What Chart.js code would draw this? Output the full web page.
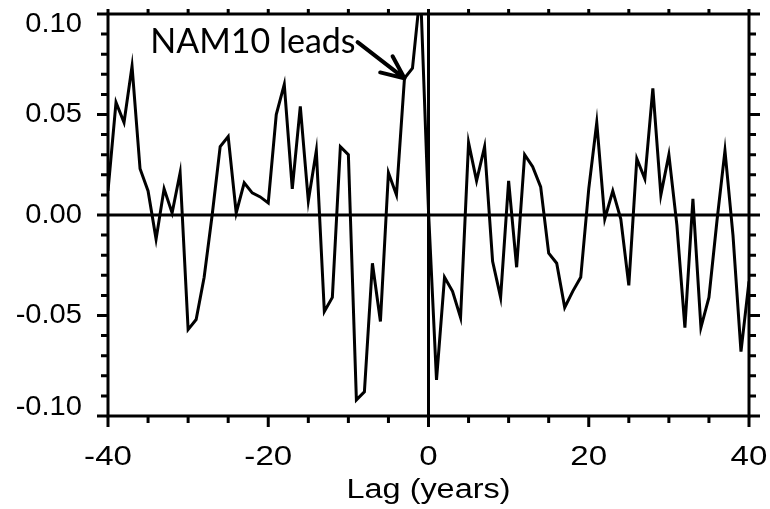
<!DOCTYPE html>
<html>
<head>
<meta charset="utf-8">
<script src="https://cdn.jsdelivr.net/npm/chart.js@4.4.1/dist/chart.umd.min.js"></script>
<style>
  html, body { margin: 0; padding: 0; background: #fff; }
  #wrap { width: 770px; height: 509px; }
</style>
</head>
<body>
<div id="wrap"><canvas id="lagChart" width="770" height="509"></canvas></div>
<script>
// lag in years, negative = NAM10 leads
const lags = [-40,-39,-38,-37,-36,-35,-34,-33,-32,-31,
              -30,-29,-28,-27,-26,-25,-24,-23,-22,-21,
              -20,-19,-18,-17,-16,-15,-14,-13,-12,-11,
              -10,-9,-8,-7,-6,-5,-4,-3,-2,-1,
              0,1,2,3,4,5,6,7,8,9,
              10,11,12,13,14,15,16,17,18,19,
              20,21,22,23,24,25,26,27,28,29,
              30,31,32,33,34,35,36,37,38,39,40];
const corr = [0.012,0.056,0.046,0.074,0.023,0.012,-0.012,0.013,0.001,0.021,
              -0.057,-0.052,-0.031,0.000,0.034,0.039,0.001,0.016,0.011,0.009,
              0.006,0.050,0.065,0.013,0.054,0.007,0.032,-0.048,-0.041,0.034,
              0.030,-0.092,-0.088,-0.024,-0.053,0.021,0.010,0.068,0.073,0.112,
              0.002,-0.082,-0.031,-0.038,-0.051,0.036,0.017,0.034,-0.023,-0.041,
              0.017,-0.026,0.030,0.024,0.014,-0.019,-0.024,-0.046,-0.038,-0.031,
              0.013,0.046,-0.002,0.012,-0.002,-0.035,0.028,0.018,0.063,0.010,
              0.030,-0.005,-0.056,0.008,-0.056,-0.041,-0.003,0.032,-0.010,-0.068,-0.033];
const xTicks = [-40, -20, 0, 20, 40];
const xLabels = ["-40", "-20", "0", "20", "40"];
const yTicks = [-0.10, -0.05, 0.00, 0.05, 0.10];
const yLabels = ["-0.10", "-0.05", "0.00", "0.05", "0.10"];
const xTitle = "Lag (years)";
const noteText = "NAM10 leads";
const noteTail = { x: -8.85, y: 0.086 };
const noteHead = { x: -3, y: 0.068 };

const FONT = '"Liberation Sans", Arial, sans-serif';

// text drawn a bit wider than normal, like the original figure
function wideText(ctx, str, x, y, stretch) {
  ctx.save();
  ctx.translate(x, y);
  ctx.scale(stretch, 1);
  ctx.fillText(str, 0, 0);
  ctx.restore();
}

const frame = {
  id: 'frame',
  afterDatasetsDraw(chart) {
    const { ctx, chartArea: a, scales: { x, y } } = chart;
    ctx.save();
    ctx.strokeStyle = '#000';
    ctx.fillStyle = '#000';
    ctx.lineCap = 'butt';

    // zero lines
    ctx.lineWidth = 3;
    ctx.beginPath();
    ctx.moveTo(a.left, y.getPixelForValue(0));
    ctx.lineTo(a.right, y.getPixelForValue(0));
    ctx.moveTo(x.getPixelForValue(0), a.top);
    ctx.lineTo(x.getPixelForValue(0), a.bottom);
    ctx.stroke();

    // box
    ctx.strokeRect(a.left, a.top, a.right - a.left, a.bottom - a.top);

    // ticks, outward
    ctx.beginPath();
    for (let v = -40; v <= 40; v += 5) {
      const px = x.getPixelForValue(v);
      const len = v % 20 === 0 ? 11 : 7;
      ctx.moveTo(px, a.bottom);
      ctx.lineTo(px, a.bottom + len);
      ctx.moveTo(px, a.top);
      ctx.lineTo(px, a.top - 5);
    }
    for (let i = -10; i <= 10; i++) {
      const py = y.getPixelForValue(i / 100);
      const len = i % 5 === 0 ? 11 : 7;
      ctx.moveTo(a.left, py);
      ctx.lineTo(a.left - len, py);
      ctx.moveTo(a.right, py);
      ctx.lineTo(a.right + len, py);
    }
    ctx.stroke();

    // y labels (end labels nudged inside)
    ctx.font = '28px ' + FONT;
    ctx.textAlign = 'right';
    ctx.textBaseline = 'middle';
    yTicks.forEach((v, i) => {
      let py = y.getPixelForValue(v);
      py = Math.min(Math.max(py, a.top + 10), a.bottom - 9);
      wideText(ctx, yLabels[i], a.left - 26, py, 1.04);
    });

    // x labels and title
    ctx.textAlign = 'center';
    xTicks.forEach((v, i) => {
      wideText(ctx, xLabels[i], x.getPixelForValue(v), a.bottom + 41, 1.18);
    });
    ctx.font = '27px ' + FONT;
    wideText(ctx, xTitle, (a.left + a.right) / 2, a.bottom + 75, 1.2);

    // annotation
    const tx = x.getPixelForValue(noteTail.x), ty = y.getPixelForValue(noteTail.y);
    const hx = x.getPixelForValue(noteHead.x), hy = y.getPixelForValue(noteHead.y);
    ctx.font = '34px Lato, "Open Sans", sans-serif';
    ctx.textAlign = 'right';
    ctx.textBaseline = 'alphabetic';
    ctx.fillText(noteText, tx - 2, ty + 11);

    ctx.lineWidth = 4;
    ctx.lineCap = 'round';
    ctx.lineJoin = 'round';
    ctx.beginPath();
    ctx.moveTo(tx, ty);
    ctx.lineTo(hx, hy);
    const ang = Math.atan2(hy - ty, hx - tx);
    const hl = 25, spread = 24 * Math.PI / 180;
    ctx.moveTo(hx - hl * Math.cos(ang - spread), hy - hl * Math.sin(ang - spread));
    ctx.lineTo(hx, hy);
    ctx.lineTo(hx - hl * Math.cos(ang + spread), hy - hl * Math.sin(ang + spread));
    ctx.stroke();
    ctx.restore();
  }
};

const ctx = document.getElementById('lagChart').getContext('2d');
new Chart(ctx, {
  type: 'line',
  data: {
    datasets: [{
      data: lags.map((l, i) => ({ x: l, y: corr[i] })),
      borderColor: '#000',
      borderWidth: 3,
      pointRadius: 0,
      tension: 0,
      fill: false
    }]
  },
  options: {
    responsive: false,
    animation: false,
    devicePixelRatio: 1,
    layout: { padding: { top: 14, right: 21, left: 0, bottom: 0 } },
    plugins: { legend: { display: false }, tooltip: { enabled: false } },
    scales: {
      x: {
        type: 'linear',
        min: -40,
        max: 40,
        afterBuildTicks: s => { s.ticks = xTicks.map(v => ({ value: v })); },
        afterFit: s => { s.height = 93; s.paddingLeft = 0; s.paddingRight = 0; },
        grid: { display: false },
        border: { display: false },
        ticks: { display: false }
      },
      y: {
        type: 'linear',
        min: -0.1,
        max: 0.1,
        afterBuildTicks: s => { s.ticks = yTicks.map(v => ({ value: v })); },
        afterFit: s => { s.width = 108; s.paddingTop = 0; s.paddingBottom = 0; },
        grid: { display: false },
        border: { display: false },
        ticks: { display: false }
      }
    }
  },
  plugins: [frame]
});
</script>
</body>
</html>
